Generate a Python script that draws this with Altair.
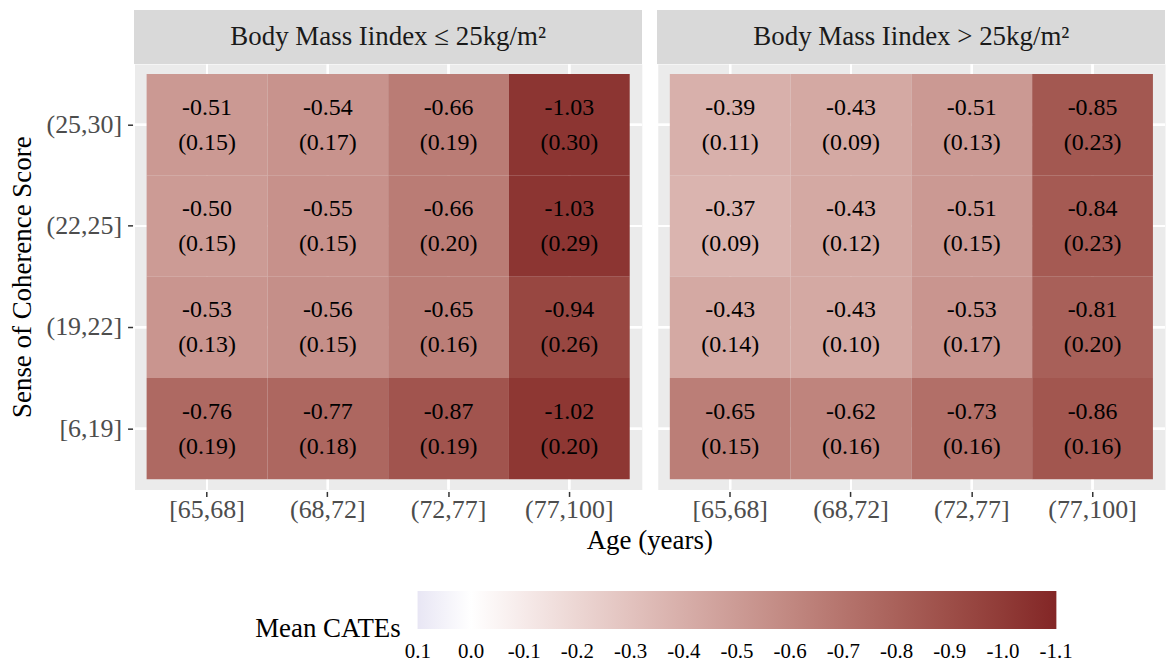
import altair as alt
import pandas as pd

SERIF = "Liberation Serif"

age_groups = ["[65,68]", "(68,72]", "(72,77]", "(77,100]"]
soc_groups = ["(25,30]", "(22,25]", "(19,22]", "[6,19]"]  # top to bottom
bmi_groups = ["Body Mass Iindex \u2264 25kg/m\u00b2", "Body Mass Iindex > 25kg/m\u00b2"]

# rows follow soc_groups (top to bottom), columns follow age_groups
mean_low = [
    [-0.51, -0.54, -0.66, -1.03],
    [-0.50, -0.55, -0.66, -1.03],
    [-0.53, -0.56, -0.65, -0.94],
    [-0.76, -0.77, -0.87, -1.02],
]
se_low = [
    [0.15, 0.17, 0.19, 0.30],
    [0.15, 0.15, 0.20, 0.29],
    [0.13, 0.15, 0.16, 0.26],
    [0.19, 0.18, 0.19, 0.20],
]
mean_high = [
    [-0.39, -0.43, -0.51, -0.85],
    [-0.37, -0.43, -0.51, -0.84],
    [-0.43, -0.43, -0.53, -0.81],
    [-0.65, -0.62, -0.73, -0.86],
]
se_high = [
    [0.11, 0.09, 0.13, 0.23],
    [0.09, 0.12, 0.15, 0.23],
    [0.14, 0.10, 0.17, 0.20],
    [0.15, 0.16, 0.16, 0.16],
]
legend_values = [0.1, 0.0, -0.1, -0.2, -0.3, -0.4, -0.5, -0.6, -0.7, -0.8, -0.9, -1.0, -1.1]
color_domain = [0.1005, 0.0, -1.1005]
color_range = ["#E8E6F4", "#FFFFFF", "#832626"]

rows = []
for bmi, means, ses in [(bmi_groups[0], mean_low, se_low), (bmi_groups[1], mean_high, se_high)]:
    for i, soc in enumerate(soc_groups):
        for j, age in enumerate(age_groups):
            m, s = means[i][j], ses[i][j]
            rows.append({"bmi": bmi, "soc": soc, "age": age, "mean": m,
                         "label": f"{m:.2f}\n({s:.2f})"})
df = pd.DataFrame(rows)

W, H = 509, 427
STRIP = 54

x_enc = alt.X("age:N", sort=age_groups, title=None,
              scale=alt.Scale(paddingInner=0, paddingOuter=0.1),
              axis=alt.Axis(grid=False, domain=False,
                            tickColor="#333333", tickSize=5, tickWidth=1.5,
                            labelColor="#4D4D4D", labelFontSize=26, labelFont=SERIF,
                            labelPadding=0, labelAngle=0))
y_enc = alt.Y("soc:N", sort=soc_groups, title="Sense of Coherence Score",
              scale=alt.Scale(paddingInner=0, paddingOuter=0.1),
              axis=alt.Axis(grid=False, domain=False,
                            tickColor="#333333", tickSize=5, tickWidth=1.5,
                            labelColor="#4D4D4D", labelFontSize=26, labelFont=SERIF,
                            labelPadding=6,
                            titleFont=SERIF, titleFontSize=27, titleFontWeight="normal",
                            titleColor="black", titlePadding=10))

base = alt.Chart(df)

strip = base.mark_rect(color="#D9D9D9").encode(
    x=alt.value(0), x2=alt.value(W), y=alt.value(-STRIP), y2=alt.value(0))
strip_text = base.transform_aggregate(n="count()", groupby=["bmi"]).mark_text(
    font=SERIF, fontSize=27, color="#1A1A1A", baseline="middle", align="center").encode(
    x=alt.value(W / 2), y=alt.value(-STRIP / 2), text="bmi:N")

vgrid = base.mark_rule(color="white", strokeWidth=2).encode(x=x_enc)
hgrid = base.mark_rule(color="white", strokeWidth=2).encode(y=y_enc)

tiles = base.mark_rect().encode(
    x=x_enc, y=y_enc,
    color=alt.Color("mean:Q",
                    scale=alt.Scale(domain=color_domain, range=color_range, interpolate="lab"),
                    legend=alt.Legend(title="Mean CATEs", orient="none", direction="horizontal",
                                      legendX=121, legendY=529,
                                      gradientLength=641, gradientThickness=38,
                                      gradientStrokeWidth=0,
                                      values=legend_values,
                                      labelExpr="replace(format(datum.value, '.1f'), '\u2212', '-')",
                                      labelAlign="center", labelOffset=12,
                                      labelFont=SERIF, labelFontSize=21, labelColor="black",
                                      titleFont=SERIF, titleFontSize=27, titleFontWeight="normal",
                                      titleColor="black", titleOrient="left", titleAnchor="end",
                                      titleBaseline="middle", titlePadding=16)))

labels = base.mark_text(font=SERIF, fontSize=24, color="black", lineBreak="\n",
                        lineHeight=35, baseline="middle", align="center", dy=-17).encode(
    x=x_enc, y=y_enc, text="label:N")

layered = alt.layer(strip, strip_text, vgrid, hgrid, tiles, labels).properties(width=W, height=H)

chart = layered.facet(
    column=alt.Column("bmi:N", sort=bmi_groups,
                      header=alt.Header(labels=False, title="Age (years)", titleOrient="bottom",
                                        titleFont=SERIF, titleFontSize=27,
                                        titleFontWeight="normal", titleColor="black",
                                        titlePadding=-4)),
    spacing=12,
).properties(
    padding={"left": 8, "top": 8, "right": 0, "bottom": 0}
).configure_view(fill="#EBEBEB", stroke="transparent")

chart.save("out.html", embed_options={"renderer": "svg", "actions": False})
